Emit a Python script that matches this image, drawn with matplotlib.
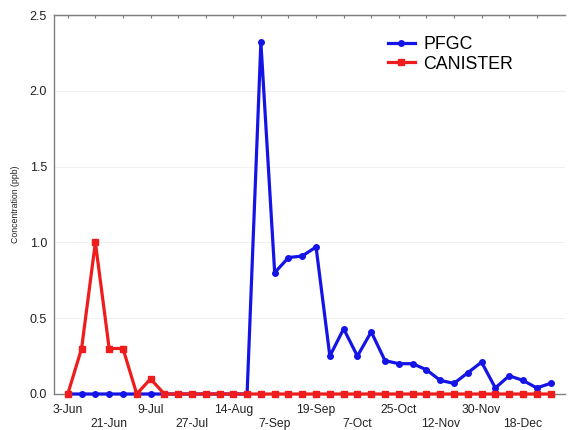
import numpy as np
import matplotlib.pyplot as plt

plt.rcParams["font.family"] = ["Liberation Sans", "DejaVu Sans"]

# sample dates (only every third one is labelled on the axis)
tick_labels = ["3-Jun", "21-Jun", "9-Jul", "27-Jul", "14-Aug", "7-Sep",
               "19-Sep", "7-Oct", "25-Oct", "12-Nov", "30-Nov", "18-Dec"]

pfgc = [0, 0, 0, 0, 0, 0, 0, 0, 0, 0, 0, 0, 0, 0,
        2.32, 0.80, 0.90, 0.91, 0.97, 0.25, 0.43, 0.25, 0.41, 0.22,
        0.20, 0.20, 0.16, 0.09, 0.07, 0.14, 0.21, 0.04, 0.12, 0.09,
        0.04, 0.07]
canister = [0, 0.3, 1.0, 0.3, 0.3, 0, 0.1, 0, 0, 0, 0, 0, 0, 0,
            0, 0, 0, 0, 0, 0, 0, 0, 0, 0, 0, 0, 0, 0, 0, 0, 0, 0,
            0, 0, 0, 0]

n = len(pfgc)
idx = np.arange(n)

fig = plt.figure(figsize=(5.69, 4.30), dpi=100)
ax = fig.add_axes([54 / 569, 1 - 394 / 430, (565 - 54) / 569, (394 - 15) / 430])

ax.plot(idx, pfgc, color="#1414e6", lw=2.3, marker="o", ms=4,
        label="PFGC", clip_on=False, zorder=3)
ax.plot(idx, canister, color="#ee1c1c", lw=2.3, marker="s", ms=4.5,
        label="CANISTER", clip_on=False, zorder=4)

ax.set_xlim(-1, n + 0.05)
ax.set_ylim(0, 2.5)
ax.set_yticks(np.arange(0, 2.51, 0.5))
ax.set_yticklabels([f"{v:.1f}" for v in np.arange(0, 2.51, 0.5)], fontsize=9,
                   color="#222222")
ax.tick_params(axis="y", length=0, pad=5)

# labels every third sample, alternating between two rows
pos = idx[::3][: len(tick_labels)]
labs = [t if i % 2 == 0 else "\n" + t for i, t in enumerate(tick_labels)]
ax.set_xticks(pos)
ax.set_xticklabels(labs, fontsize=8.7, linespacing=1.2, color="#222222")
ax.tick_params(axis="x", length=0, pad=7)

# small inward ticks along the top edge
top = ax.secondary_xaxis("top")
top.set_xticks(idx[::2])
top.set_xticklabels([])
top.tick_params(direction="in", length=2.5, color="#777777")
top.spines["top"].set_color("#808080")

for side in ["left", "bottom", "top"]:
    ax.spines[side].set_color("#808080")
    ax.spines[side].set_linewidth(1)
ax.spines["right"].set_visible(False)

ax.yaxis.grid(True, color="#f0f0f0", lw=0.8)
ax.set_axisbelow(True)

ax.set_ylabel("Concentration (ppb)", fontsize=6.3, labelpad=7, color="#222222")

ax.legend(loc="upper left", bbox_to_anchor=(388 / 569, 1 - 36 / 430),
          bbox_transform=fig.transFigure, frameon=False, fontsize=12.8,
          handlelength=1.5, handletextpad=0.5, borderpad=0, borderaxespad=0,
          labelspacing=0.15)

fig.savefig("out.png", dpi=100)
